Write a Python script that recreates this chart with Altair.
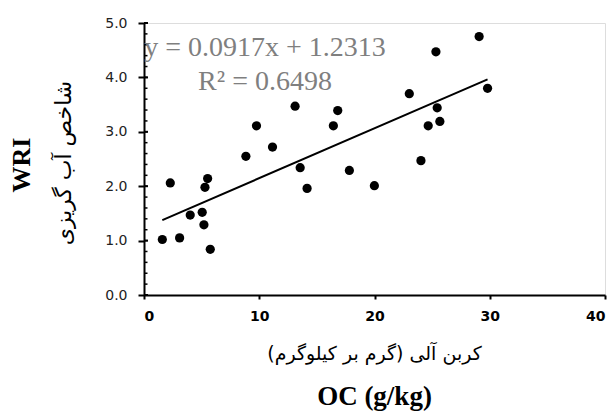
import altair as alt
import pandas as pd

oc = [1.59, 2.28, 3.09, 4.01, 5.05, 5.20, 5.29, 5.52, 5.75, 8.84, 9.76, 11.15,
      13.11, 13.55, 14.15, 16.43, 16.81, 17.82, 19.99, 23.02, 24.03, 24.66,
      25.33, 25.44, 25.67, 29.08, 29.81]
wri = [1.02, 2.06, 1.05, 1.47, 1.52, 1.29, 1.98, 2.14, 0.84, 2.55, 3.11, 2.72,
       3.47, 2.34, 1.96, 3.11, 3.39, 2.29, 2.01, 3.70, 2.47, 3.11,
       4.47, 3.44, 3.19, 4.75, 3.80]
slope = 0.0917
intercept = 1.2313
x_ticks = [0, 10, 20, 30, 40]
y_ticks = [0, 1, 2, 3, 4, 5]
y_minor = [round(i * 0.2, 1) for i in range(26)]

W, H = 461, 272

df = pd.DataFrame({"oc": oc, "wri": wri})
line_x = [min(oc), max(oc)]
line_df = pd.DataFrame({"oc": line_x, "wri": [slope * v + intercept for v in line_x]})

xs = alt.Scale(domain=[0, 40], nice=False)
ys = alt.Scale(domain=[0, 5], nice=False)

x_axis = alt.Axis(values=x_ticks, format="d", title=None, grid=False,
                  domainColor="black", domainWidth=2, tickColor="black",
                  tickWidth=2, tickSize=4, labelFont="DejaVu Sans",
                  labelFontSize=14, labelColor="black", labelPadding=10,
                  labelFontWeight="bold")
y_axis = alt.Axis(values=y_ticks, format=".1f", title=None, grid=False,
                  domainColor="black", domainWidth=2, tickColor="black",
                  tickWidth=2, tickSize=6, labelFont="DejaVu Sans",
                  labelFontSize=14, labelColor="#222222", labelPadding=11)

points = alt.Chart(df).mark_circle(size=85, color="black", opacity=1).encode(
    x=alt.X("oc:Q", scale=xs, axis=x_axis),
    y=alt.Y("wri:Q", scale=ys, axis=y_axis),
)

trend = alt.Chart(line_df).mark_line(color="black", strokeWidth=2).encode(
    x=alt.X("oc:Q", scale=xs),
    y=alt.Y("wri:Q", scale=ys),
)

minor_df = pd.DataFrame({"v": y_minor})
minor = alt.Chart(minor_df).mark_rule(color="black", strokeWidth=1.5).encode(
    y=alt.Y("v:Q", scale=ys),
    x=alt.value(0),
    x2=alt.value(3.5),
)
major_df = pd.DataFrame({"v": y_ticks})
major = alt.Chart(major_df).mark_rule(color="black", strokeWidth=2).encode(
    y=alt.Y("v:Q", scale=ys),
    x=alt.value(0),
    x2=alt.value(4),
)

eq1 = alt.Chart(pd.DataFrame({"t": ["y = 0.0917x + 1.2313"]})).mark_text(
    font="Liberation Serif", fontSize=28, color="#7f7f7f", align="center",
    baseline="alphabetic").encode(text="t:N", x=alt.value(121), y=alt.value(33))
eq2 = alt.Chart(pd.DataFrame({"t": ["R² = 0.6498"]})).mark_text(
    font="Liberation Serif", fontSize=28, color="#7f7f7f", align="center",
    baseline="alphabetic").encode(text="t:N", x=alt.value(121), y=alt.value(67))

ytitle_en = alt.Chart(pd.DataFrame({"t": ["WRI"]})).mark_text(
    font="Liberation Serif", fontSize=26, fontWeight="bold", color="black",
    angle=270, align="center", baseline="middle").encode(
    text="t:N", x=alt.value(-122), y=alt.value(142))
ytitle_fa = alt.Chart(pd.DataFrame({"t": ["شاخص آب گریزی"]})).mark_text(
    font="DejaVu Sans", fontSize=22, color="black",
    angle=270, align="center", baseline="middle").encode(
    text="t:N", x=alt.value(-80), y=alt.value(140))
xtitle_fa = alt.Chart(pd.DataFrame({"t": ["کربن آلی (گرم بر کیلوگرم)"]})).mark_text(
    font="DejaVu Sans", fontSize=19, color="black", align="center",
    baseline="middle").encode(text="t:N", x=alt.value(W / 2), y=alt.value(H + 59))
xtitle_en = alt.Chart(pd.DataFrame({"t": ["OC (g/kg)"]})).mark_text(
    font="Liberation Serif", fontSize=27, fontWeight="bold", color="black",
    align="center", baseline="middle").encode(text="t:N", x=alt.value(W / 2), y=alt.value(H + 102))

chart = alt.layer(points, trend, minor, major, eq1, eq2,
                  ytitle_en, ytitle_fa, xtitle_fa, xtitle_en).properties(
    width=W, height=H,
    autosize=alt.AutoSizeParams(type="none"),
    padding={"left": 136, "top": 15, "right": 2, "bottom": 118},
).configure_view(stroke="black", strokeWidth=2.5).configure(background="white")

chart.save("out.html", embed_options={"renderer": "svg", "actions": False})
